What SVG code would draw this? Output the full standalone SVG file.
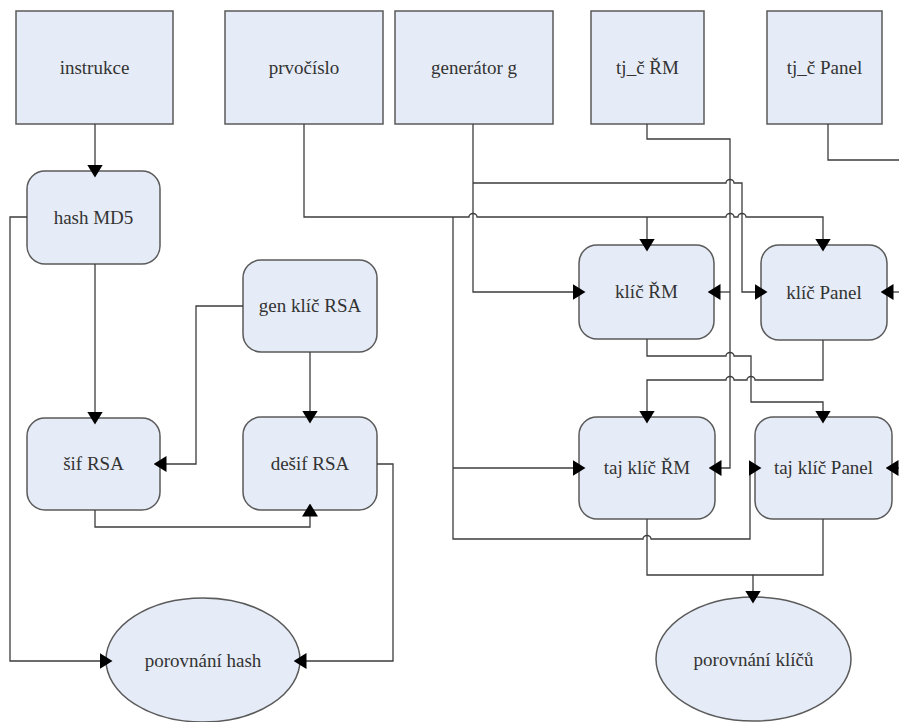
<svg xmlns="http://www.w3.org/2000/svg" width="899" height="722" viewBox="0 0 899 722">
  <style>
    .box { fill: #e6ecf7; stroke: #5a5a5a; stroke-width: 1.5; }
    .lbl { font-family: "Liberation Serif", "DejaVu Serif", "Times New Roman", serif; font-size: 19px; fill: #333333; text-anchor: middle; }
    .wire { fill: none; stroke: #3c3c3c; stroke-width: 1.3; }
    .arr { marker-end: url(#head); }
  </style>
  <defs>
    <!-- filled triangle, centred on the end point so that it straddles the node edge -->
    <marker id="head" markerUnits="userSpaceOnUse" markerWidth="13" markerHeight="16" refX="6.5" refY="8" orient="auto" viewBox="0 0 13 16">
      <path d="M0,0 L13,8 L0,16 z" fill="#000000"/>
    </marker>
  </defs>

  <rect width="899" height="722" fill="#ffffff"/>

  <!-- input nodes -->
  <g id="instrukce">
    <rect class="box" x="16" y="11" width="157" height="113"/>
    <text class="lbl" x="94.5" y="74">instrukce</text>
  </g>
  <g id="prvocislo">
    <rect class="box" x="225" y="11" width="158" height="113"/>
    <text class="lbl" x="304" y="74">prvočíslo</text>
  </g>
  <g id="generator">
    <rect class="box" x="395" y="11" width="158" height="113"/>
    <text class="lbl" x="474" y="74">generátor g</text>
  </g>
  <g id="tjc-rm">
    <rect class="box" x="591" y="11" width="113" height="113"/>
    <text class="lbl" x="647.5" y="74">tj_č ŘM</text>
  </g>
  <g id="tjc-panel">
    <rect class="box" x="767" y="11" width="115" height="113"/>
    <text class="lbl" x="824.5" y="74">tj_č Panel</text>
  </g>

  <!-- hash / RSA processes -->
  <g id="hash-md5">
    <rect class="box" x="27" y="171" width="133" height="93" rx="18" ry="18"/>
    <text class="lbl" x="93.5" y="224">hash MD5</text>
  </g>
  <g id="gen-klic-rsa">
    <rect class="box" x="243" y="260" width="134" height="92" rx="18" ry="18"/>
    <text class="lbl" x="310" y="312">gen klíč RSA</text>
  </g>
  <g id="sif-rsa">
    <rect class="box" x="27" y="418" width="133" height="92" rx="18" ry="18"/>
    <text class="lbl" x="93.5" y="470">šif RSA</text>
  </g>
  <g id="desif-rsa">
    <rect class="box" x="243" y="417" width="134" height="93" rx="18" ry="18"/>
    <text class="lbl" x="310" y="470">dešif RSA</text>
  </g>

  <!-- key processes -->
  <g id="klic-rm">
    <rect class="box" x="579" y="245" width="135" height="94" rx="18" ry="18"/>
    <text class="lbl" x="646.5" y="298">klíč ŘM</text>
  </g>
  <g id="klic-panel">
    <rect class="box" x="761" y="245" width="126" height="95" rx="18" ry="18"/>
    <text class="lbl" x="824" y="299">klíč Panel</text>
  </g>
  <g id="taj-klic-rm">
    <rect class="box" x="579" y="417" width="136" height="102" rx="18" ry="18"/>
    <text class="lbl" x="647" y="474">taj klíč ŘM</text>
  </g>
  <g id="taj-klic-panel">
    <rect class="box" x="755" y="417" width="137" height="102" rx="18" ry="18"/>
    <text class="lbl" x="823.5" y="474">taj klíč Panel</text>
  </g>

  <!-- comparisons -->
  <g id="porovnani-hash">
    <ellipse class="box" cx="203" cy="660" rx="97" ry="62" stroke-width="1.2"/>
    <text class="lbl" x="203" y="667">porovnání hash</text>
  </g>
  <g id="porovnani-klicu">
    <ellipse class="box" cx="753.5" cy="659" rx="97.5" ry="62" stroke-width="1.2"/>
    <text class="lbl" x="753.5" y="666">porovnání klíčů</text>
  </g>

  <!-- connectors, drawn over the nodes so the arrowheads overlap the edges -->
  <g id="connectors">
    <!-- hash branch -->
    <path class="wire arr" d="M95,124 V171"/>
    <path class="wire arr" d="M27,217 H10 V661 H106"/>
    <path class="wire arr" d="M95,264 V418"/>
    <path class="wire arr" d="M243,306 H196 V464 H160"/>
    <path class="wire arr" d="M310,352 V417"/>
    <path class="wire arr" d="M95,510 V527 H310 V510"/>
    <path class="wire arr" d="M377,464 H393 V661 H300"/>

    <!-- prvočíslo -->
    <path class="wire arr" d="M304,124 V217 H469 A4,3.5 0 0 1 477,217 H726 A4,3.5 0 0 1 734,217 H738 A4,3.5 0 0 1 746,217 H823 V245"/>
    <path class="wire arr" d="M647,217 V245"/>
    <path class="wire arr" d="M453,217 V539 H643 A4,3.5 0 0 1 651,539 H750 V468 H755"/>
    <path class="wire arr" d="M453,468 H579"/>

    <!-- generátor g -->
    <path class="wire arr" d="M473,124 V292 H579"/>
    <path class="wire arr" d="M473,183 H726 A4,3.5 0 0 1 734,183 H742 V292 H761"/>

    <!-- tj_č ŘM -->
    <path class="wire arr" d="M647,124 V139 H730 V468 H715"/>
    <path class="wire arr" d="M730,292 H714"/>

    <!-- tj_č Panel (runs off to the right and returns) -->
    <path class="wire" d="M828,124 V160 H899"/>
    <path class="wire arr" d="M899,292 H887"/>
    <path class="wire arr" d="M899,468 H892"/>

    <!-- klíč ŘM -> taj klíč Panel -->
    <path class="wire arr" d="M647,339 V356 H726 A4,3.5 0 0 1 734,356 H751 V402 H823 V417"/>
    <!-- klíč Panel -> taj klíč ŘM -->
    <path class="wire arr" d="M823,340 V380 H755 A4,3.5 0 0 0 747,380 H734 A4,3.5 0 0 0 726,380 H647 V417"/>

    <!-- taj klíče -> porovnání klíčů -->
    <path class="wire arr" d="M647,519 V575 H753 V597"/>
    <path class="wire" d="M823,519 V575 H753"/>
  </g>
</svg>
